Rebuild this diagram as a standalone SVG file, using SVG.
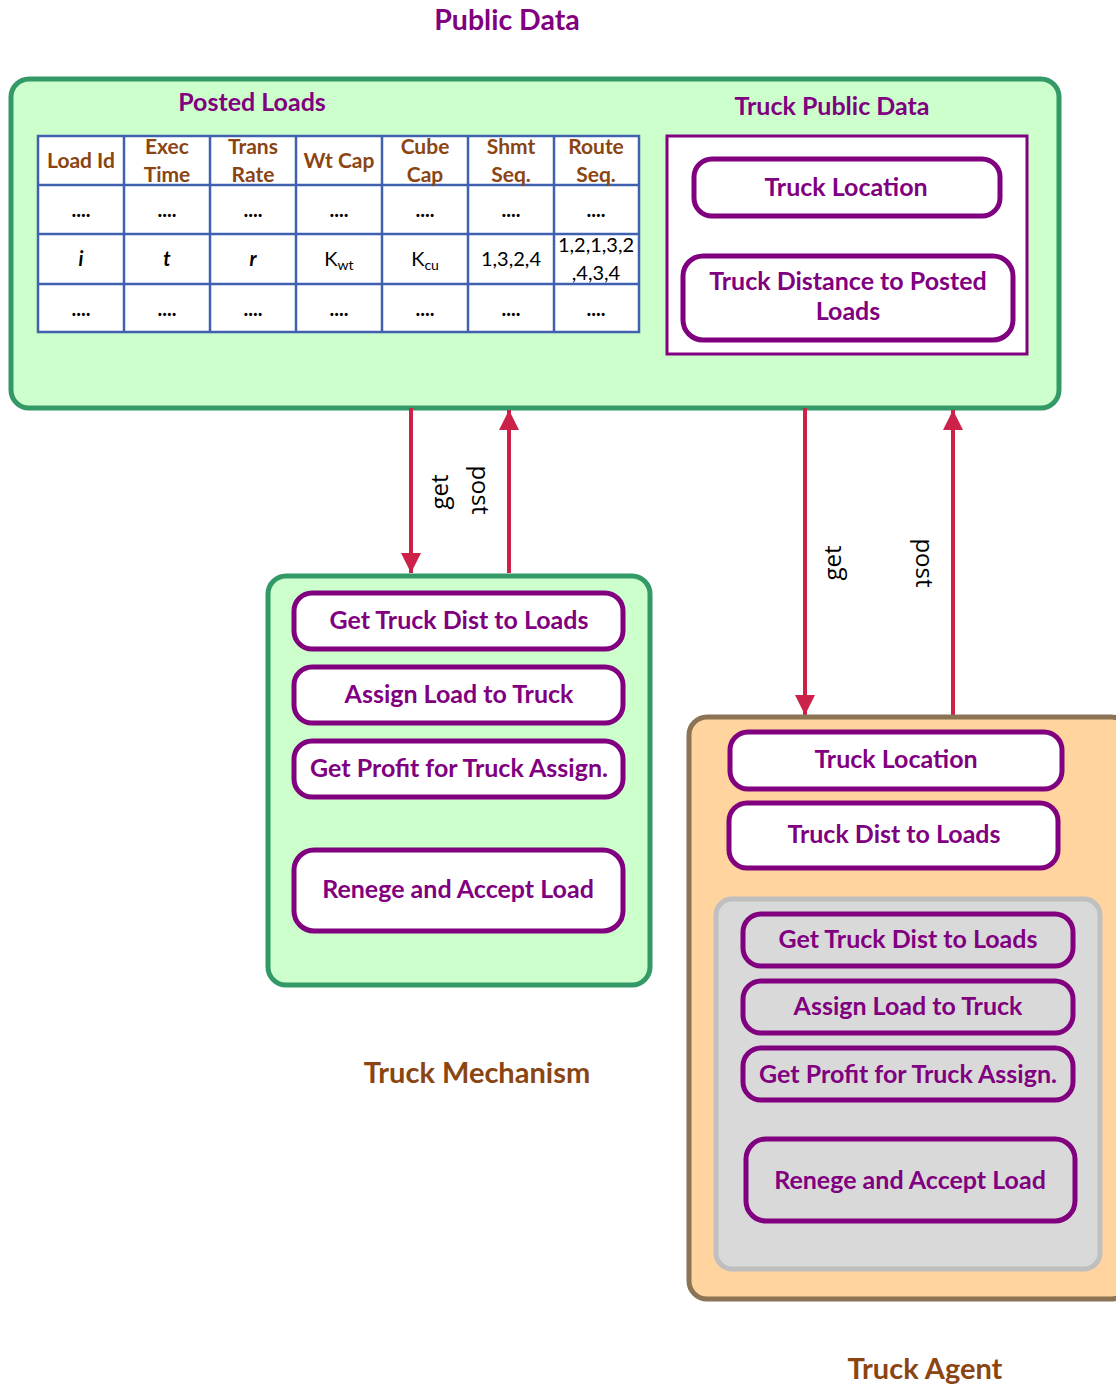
<svg xmlns="http://www.w3.org/2000/svg" width="1116" height="1387" viewBox="0 0 1116 1387">
<defs>
<marker id="ah" viewBox="0 0 10 10" refX="10" refY="5" markerWidth="5.5" markerHeight="5" markerUnits="strokeWidth" orient="auto">
<path d="M0,0 L10,5 L0,10 z" fill="#cc2249"/>
</marker>
</defs>
<style>
text{font-family:Lato,"Open Sans","Liberation Sans",sans-serif;}
.t{font-weight:bold;fill:#800080;text-anchor:middle;font-size:25px;}
.big{font-size:28.5px;}
.br{font-weight:bold;fill:#8b4513;text-anchor:middle;font-size:29px;}
.hd{font-weight:bold;fill:#8b4513;text-anchor:middle;font-size:21px;}
.cell{font-weight:bold;fill:#000;text-anchor:middle;font-size:20px;}
.num{font-weight:normal;}
.it{font-style:italic;}
.green{fill:#ccffcc;stroke:#339966;stroke-width:5;}
.btn{fill:#fff;stroke:#800080;stroke-width:5;}
.btng{fill:none;stroke:#800080;stroke-width:5;}
.grid{stroke:#4060b0;stroke-width:2.5;fill:none;}
.arr{stroke:#cc2249;stroke-width:4;fill:none;marker-end:url(#ah);}
.lbl{fill:#000;font-size:24px;text-anchor:middle;font-family:"Open Sans","Noto Sans",sans-serif;}
</style>
<text class="t big" x="507" y="30">Public Data</text>

<g id="public-data">
<rect class="green" x="11" y="79" width="1048" height="329" rx="18"/>
<text class="t" x="252" y="111">Posted Loads</text>
<text class="t" x="832" y="115">Truck Public Data</text>
</g>

<g id="posted-loads-table">
<rect x="38" y="136" width="601" height="196" fill="#fff"/>
<path class="grid" d="M38,136H639V332H38Z M38,185H639 M38,234H639 M38,284H639 M124,136V332 M210,136V332 M296,136V332 M382,136V332 M468,136V332 M554,136V332"/>
<text class="hd" x="81" y="168">Load Id</text>
<text class="hd" x="167" y="154">Exec</text><text class="hd" x="167" y="182">Time</text>
<text class="hd" x="253" y="154">Trans</text><text class="hd" x="253" y="182">Rate</text>
<text class="hd" x="339" y="168">Wt Cap</text>
<text class="hd" x="425" y="154">Cube</text><text class="hd" x="425" y="182">Cap</text>
<text class="hd" x="511" y="154">Shmt</text><text class="hd" x="511" y="182">Seq.</text>
<text class="hd" x="596" y="154">Route</text><text class="hd" x="596" y="182">Seq.</text>
<text class="cell" x="81" y="217">....</text><text class="cell" x="167" y="217">....</text><text class="cell" x="253" y="217">....</text><text class="cell" x="339" y="217">....</text><text class="cell" x="425" y="217">....</text><text class="cell" x="511" y="217">....</text><text class="cell" x="596" y="217">....</text>
<text class="cell it" x="81" y="266">i</text><text class="cell it" x="167" y="266">t</text><text class="cell it" x="253" y="266">r</text>
<text class="cell num" x="339" y="266">K<tspan font-size="14" dy="4">wt</tspan></text>
<text class="cell num" x="425" y="266">K<tspan font-size="14" dy="4">cu</tspan></text>
<text class="cell num" x="511" y="266">1,3,2,4</text>
<text class="cell num" x="596" y="252">1,2,1,3,2</text>
<text class="cell num" x="596" y="280">,4,3,4</text>
<text class="cell" x="81" y="316">....</text><text class="cell" x="167" y="316">....</text><text class="cell" x="253" y="316">....</text><text class="cell" x="339" y="316">....</text><text class="cell" x="425" y="316">....</text><text class="cell" x="511" y="316">....</text><text class="cell" x="596" y="316">....</text>
</g>

<g id="truck-public-data">
<rect x="667" y="136" width="360" height="218" fill="#fff" stroke="#800080" stroke-width="3"/>
</g>
<g id="pd-truck-location">
<rect class="btn" x="694" y="159" width="306" height="57" rx="18"/>
<text class="t" x="846" y="196">Truck Location</text>
</g>
<g id="pd-truck-distance">
<rect class="btn" x="683" y="256" width="330" height="84" rx="20"/>
<text class="t" x="848" y="290">Truck Distance to Posted</text>
<text class="t" x="848" y="320">Loads</text>
</g>

<g id="connectors">
<line class="arr" x1="411" y1="408" x2="411" y2="573"/>
<line class="arr" x1="509" y1="573" x2="509" y2="410"/>
<line class="arr" x1="805" y1="408" x2="805" y2="715"/>
<line class="arr" x1="953" y1="716" x2="953" y2="410"/>
<text class="lbl" transform="translate(448,492) rotate(-90)">get</text>
<text class="lbl" transform="translate(472,490) rotate(90)">post</text>
<text class="lbl" transform="translate(841,563) rotate(-90)">get</text>
<text class="lbl" transform="translate(916,563) rotate(90)">post</text>
</g>

<g id="truck-mechanism">
<rect class="green" x="268" y="576" width="382" height="409" rx="18"/>
<text class="br" x="477" y="1083">Truck Mechanism</text>
</g>
<g id="tm-get-dist"><rect class="btn" x="294" y="593" width="329" height="56" rx="18"/><text class="t" x="459" y="629">Get Truck Dist to Loads</text></g>
<g id="tm-assign"><rect class="btn" x="294" y="667" width="329" height="56" rx="18"/><text class="t" x="459" y="703">Assign Load to Truck</text></g>
<g id="tm-profit"><rect class="btn" x="294" y="741" width="329" height="56" rx="18"/><text class="t" x="459" y="777">Get Profit for Truck Assign.</text></g>
<g id="tm-renege"><rect class="btn" x="294" y="850" width="329" height="81" rx="20"/><text class="t" x="458" y="898">Renege and Accept Load</text></g>

<g id="truck-agent">
<rect x="689" y="717" width="440" height="582" rx="18" fill="#ffd49e" stroke="#8b7355" stroke-width="5"/>
<text class="br" x="925" y="1379">Truck Agent</text>
</g>
<g id="ta-location"><rect class="btn" x="730" y="732" width="332" height="57" rx="18"/><text class="t" x="896" y="768">Truck Location</text></g>
<g id="ta-dist"><rect class="btn" x="729" y="803" width="329" height="65" rx="18"/><text class="t" x="894" y="843">Truck Dist to Loads</text></g>
<g id="ta-strategy">
<rect x="716" y="899" width="384" height="370" rx="16" fill="#d9d9d9" stroke="#bfbfbf" stroke-width="5"/>
</g>
<g id="ta-get-dist"><rect class="btng" x="743" y="914" width="330" height="52" rx="18"/><text class="t" x="908" y="948">Get Truck Dist to Loads</text></g>
<g id="ta-assign"><rect class="btng" x="743" y="981" width="330" height="52" rx="18"/><text class="t" x="908" y="1015">Assign Load to Truck</text></g>
<g id="ta-profit"><rect class="btng" x="743" y="1048" width="330" height="52" rx="18"/><text class="t" x="908" y="1083">Get Profit for Truck Assign.</text></g>
<g id="ta-renege"><rect class="btng" x="746" y="1139" width="329" height="82" rx="20"/><text class="t" x="910" y="1189">Renege and Accept Load</text></g>
</svg>
